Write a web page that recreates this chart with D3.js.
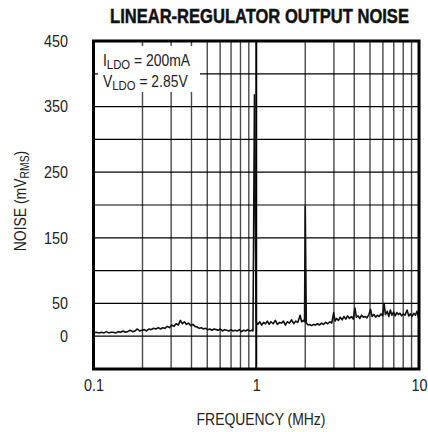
<!DOCTYPE html>
<html>
<head>
<meta charset="utf-8">
<script src="https://cdn.jsdelivr.net/npm/d3@7"></script>
<style>
  body { margin: 0; background: #fff; }
  svg text { font-family: "Liberation Sans", Arial, sans-serif; fill: #222; }
</style>
</head>
<body>
<svg id="chart"></svg>
<script>
const width = 428;
const height = 432;
const margin = { top: 41, right: 9, bottom: 63, left: 93.5 };
const squeeze = 0.87; // condensed look of the original type

// noise trace, [frequency MHz, noise mVrms]
const noiseLow = [
  [0.100, 5], [0.104, 6], [0.108, 5], [0.112, 6], [0.116, 5], [0.120, 7], [0.124, 5], [0.128, 6],
  [0.132, 6], [0.137, 5], [0.142, 7], [0.147, 6], [0.152, 8], [0.157, 6], [0.162, 7], [0.168, 9],
  [0.174, 7], [0.180, 8], [0.186, 11], [0.192, 8], [0.198, 9], [0.205, 10], [0.212, 8], [0.219, 11],
  [0.226, 10], [0.234, 12], [0.242, 11], [0.250, 13], [0.258, 11], [0.266, 13], [0.275, 12], [0.284, 15],
  [0.293, 13], [0.302, 17], [0.312, 15], [0.322, 19], [0.332, 17], [0.342, 24], [0.352, 19], [0.362, 22],
  [0.373, 18], [0.384, 20], [0.396, 16], [0.408, 18], [0.420, 15], [0.433, 14], [0.446, 12], [0.460, 13],
  [0.474, 11], [0.488, 12], [0.503, 10], [0.518, 11], [0.534, 9], [0.550, 11], [0.567, 10], [0.584, 9],
  [0.602, 11], [0.620, 8], [0.639, 10], [0.658, 9], [0.678, 8], [0.699, 10], [0.720, 8], [0.742, 9],
  [0.764, 8], [0.787, 10], [0.811, 7], [0.836, 9], [0.861, 8], [0.887, 10], [0.914, 8], [0.940, 9],
  [0.955, 8]
];
const spike1 = [[0.975, 368], [0.998, 22]];
const noiseMid = [
  [1.02, 18], [1.05, 22], [1.08, 17], [1.11, 21], [1.14, 19], [1.17, 23], [1.20, 18], [1.23, 22],
  [1.27, 19], [1.31, 24], [1.35, 18], [1.39, 21], [1.43, 20], [1.47, 23], [1.51, 17], [1.55, 22],
  [1.60, 20], [1.65, 25], [1.70, 19], [1.75, 23], [1.80, 21], [1.86, 32], [1.90, 22], [1.95, 24],
  [1.98, 22]
];
const spike2 = [[2.00, 198], [2.03, 20]];
const noiseHigh = [
  [2.08, 17], [2.13, 18], [2.19, 16], [2.25, 18], [2.31, 17], [2.38, 19], [2.45, 17], [2.52, 20],
  [2.59, 18], [2.67, 21], [2.75, 19], [2.83, 22], [2.91, 20], [2.99, 36], [3.05, 23], [3.12, 27],
  [3.20, 24], [3.28, 29], [3.37, 25], [3.46, 30], [3.55, 26], [3.64, 31], [3.74, 27], [3.84, 30],
  [3.94, 26], [4.04, 43], [4.12, 29], [4.22, 31], [4.33, 27], [4.44, 32], [4.55, 29], [4.67, 30],
  [4.79, 28], [4.92, 33], [5.04, 41], [5.15, 30], [5.28, 33], [5.41, 29], [5.55, 32], [5.69, 30],
  [5.84, 34], [5.99, 31], [6.10, 50], [6.22, 33], [6.38, 38], [6.52, 30], [6.67, 40], [6.82, 32],
  [6.98, 37], [7.14, 31], [7.30, 36], [7.47, 33], [7.64, 35], [7.82, 31], [8.00, 34], [8.20, 32],
  [8.45, 40], [8.65, 31], [8.86, 34], [9.07, 30], [9.28, 35], [9.50, 32], [9.72, 38], [9.90, 30],
  [10.0, 28]
];
const noise = [...noiseLow, ...spike1, ...noiseMid, ...spike2, ...noiseHigh];

const xTicks = [0.1, 1, 10];
const xGrid = [0.2, 0.3, 0.4, 0.5, 0.6, 0.7, 0.8, 0.9, 1, 2, 3, 4, 5, 6, 7, 8, 9];
const yTicks = [0, 50, 150, 250, 350, 450];
const yGrid = [0, 50, 100, 150, 200, 250, 300, 350, 400];

const svg = d3.select("#chart").attr("width", width).attr("height", height);

const x = d3.scaleLog().domain([0.1, 10]).range([margin.left, width - margin.right]);
const y = d3.scaleLinear().domain([-50, 450]).range([height - margin.bottom, margin.top]);

function placeText(parent, px, py, size, k) {
  return parent.append("text")
    .attr("transform", `translate(${px},${py}) scale(${k},1)`)
    .attr("font-size", size);
}

// grid
svg.append("g")
  .selectAll("line")
  .data(xGrid)
  .join("line")
  .attr("x1", (d) => x(d)).attr("x2", (d) => x(d))
  .attr("y1", y(-50)).attr("y2", y(450))
  .attr("stroke", (d) => (d === 1 ? "#000" : "#4a4a4a"))
  .attr("stroke-width", (d) => (d === 1 ? 2 : 1.4));

svg.append("g")
  .selectAll("line")
  .data(yGrid)
  .join("line")
  .attr("x1", x(0.1)).attr("x2", x(10))
  .attr("y1", (d) => y(d)).attr("y2", (d) => y(d))
  .attr("stroke", "#000")
  .attr("stroke-width", 1.2);

// label box covers the grid
svg.append("rect")
  .attr("x", 98).attr("y", 46)
  .attr("width", 102).attr("height", 46)
  .attr("fill", "#fff");

const l1 = placeText(svg, 103, 66, 16, squeeze);
l1.append("tspan").text("I");
l1.append("tspan").attr("font-size", 13).attr("dy", 3).text("LDO");
l1.append("tspan").attr("dy", -3).text(" = 200mA");
const l2 = placeText(svg, 103, 87, 16, squeeze);
l2.append("tspan").text("V");
l2.append("tspan").attr("font-size", 13).attr("dy", 3).text("LDO");
l2.append("tspan").attr("dy", -3).text(" = 2.85V");

// trace
const line = d3.line().x((d) => x(d[0])).y((d) => y(d[1]));
svg.append("path")
  .datum(noise)
  .attr("d", line)
  .attr("fill", "none")
  .attr("stroke", "#111")
  .attr("stroke-width", 1.6)
  .attr("stroke-linejoin", "round");

// frame
svg.append("rect")
  .attr("x", x(0.1)).attr("y", y(450))
  .attr("width", x(10) - x(0.1)).attr("height", y(-50) - y(450))
  .attr("fill", "none")
  .attr("stroke", "#000")
  .attr("stroke-width", 3);

// axes
svg.append("g")
  .attr("transform", `translate(68,0)`)
  .call(d3.axisLeft(y).tickValues(yTicks).tickSize(0).tickPadding(0).tickFormat(d3.format("d")))
  .call((g) => g.select(".domain").remove())
  .call((g) => g.selectAll("text")
    .attr("font-size", 16.5).attr("font-family", null).attr("fill", "#222")
    .attr("transform", `scale(${squeeze},1)`));

svg.append("g")
  .attr("transform", `translate(0,379)`)
  .call(d3.axisBottom(x).tickValues(xTicks).tickSize(0).tickPadding(0).tickFormat((d) => String(d)))
  .call((g) => g.select(".domain").remove())
  .call((g) => g.selectAll("text")
    .attr("font-size", 16.5).attr("font-family", null).attr("fill", "#222")
    .attr("transform", `scale(${squeeze},1)`));

placeText(svg, 261, 425, 16, squeeze)
  .attr("text-anchor", "middle")
  .text("FREQUENCY (MHz)");

const yt = svg.append("text")
  .attr("transform", `translate(26,201) rotate(-90) scale(${squeeze},1)`)
  .attr("text-anchor", "middle")
  .attr("font-size", 16);
yt.append("tspan").text("NOISE (mV");
yt.append("tspan").attr("font-size", 12).attr("dy", 3).text("RMS");
yt.append("tspan").attr("dy", -3).text(")");

const title = svg.append("text")
  .attr("text-anchor", "middle")
  .attr("font-size", 20)
  .attr("font-weight", "bold")
  .style("fill", "#111")
  .style("stroke", "#111")
  .style("stroke-width", 0.5)
  .text("LINEAR-REGULATOR OUTPUT NOISE");
const titleK = 299 / title.node().getComputedTextLength();
title.attr("transform", `translate(259.5,23) scale(${titleK},1)`);
</script>
</body>
</html>
